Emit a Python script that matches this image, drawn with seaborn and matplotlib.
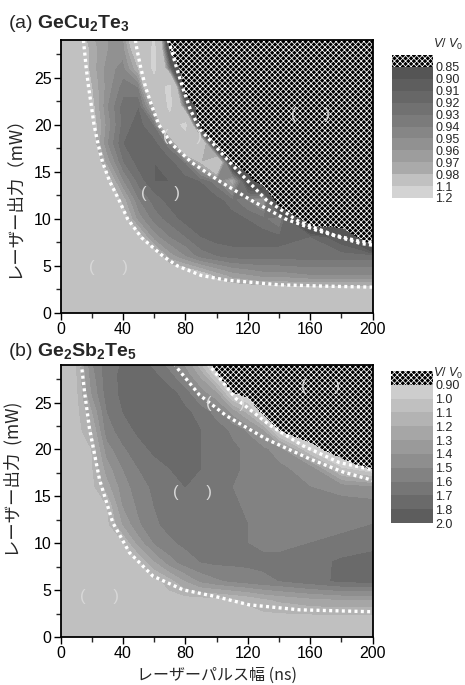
import numpy as np
import pandas as pd
import seaborn as sns
import matplotlib
matplotlib.use("Agg")
import matplotlib.pyplot as plt
from matplotlib import font_manager

# ---------------- data ----------------
pulse_ns = [0, 10, 20, 30, 40, 50, 60, 70, 80, 90, 100, 110, 120, 130, 140, 160, 180, 200]
power_mw = [0, 2, 4, 6, 8, 10, 12, 14, 16, 18, 20, 22, 24, 26, 28, 30]

# (a) GeCu2Te3 : V/V0 map, one row per laser power
ratio_a = [
    [1.00] * 18,
    [1.00] * 18,
    [1, 1, 1, 1, 1, 1, 1, 1, 1, 0.99, 0.975, 0.965, 0.96, 0.955, 0.955, 0.95, 0.95, 0.95],
    [1, 1, 1, 1, 1, 1, 0.995, 0.965, 0.95, 0.935, 0.93, 0.925, 0.925, 0.925, 0.925, 0.925, 0.925, 0.925],
    [1, 1, 1, 1, 1, 0.99, 0.955, 0.94, 0.93, 0.92, 0.915, 0.915, 0.915, 0.915, 0.915, 0.92, 0.90, 0.80],
    [1, 1, 1, 1, 0.99, 0.955, 0.935, 0.925, 0.915, 0.915, 0.915, 0.915, 0.92, 0.925, 0.94, 0.80, 0.80, 0.80],
    [1, 1, 1, 1, 0.975, 0.94, 0.925, 0.915, 0.91, 0.91, 0.915, 0.925, 0.94, 0.96, 0.80, 0.80, 0.80, 0.80],
    [1, 1, 1, 0.99, 0.95, 0.925, 0.91, 0.91, 0.915, 0.92, 0.935, 0.975, 0.88, 0.80, 0.80, 0.80, 0.80, 0.80],
    [1, 1, 1, 0.965, 0.93, 0.915, 0.91, 0.915, 0.93, 0.98, 1.05, 0.84, 0.80, 0.80, 0.80, 0.80, 0.80, 0.80],
    [1, 1, 0.99, 0.95, 0.92, 0.91, 0.915, 0.935, 1.05, 1.05, 0.80, 0.80, 0.80, 0.80, 0.80, 0.80, 0.80, 0.80],
    [1, 1, 0.99, 0.955, 0.925, 0.915, 0.93, 1.05, 1.12, 0.80, 0.80, 0.80, 0.80, 0.80, 0.80, 0.80, 0.80, 0.80],
    [1, 1, 0.985, 0.95, 0.925, 0.92, 0.98, 1.12, 0.92, 0.80, 0.80, 0.80, 0.80, 0.80, 0.80, 0.80, 0.80, 0.80],
    [1, 1, 0.98, 0.955, 0.935, 0.94, 1.05, 1.12, 0.80, 0.80, 0.80, 0.80, 0.80, 0.80, 0.80, 0.80, 0.80, 0.80],
    [1, 1, 0.975, 0.955, 0.945, 0.98, 1.12, 0.92, 0.80, 0.80, 0.80, 0.80, 0.80, 0.80, 0.80, 0.80, 0.80, 0.80],
    [1, 1, 0.975, 0.96, 0.955, 1.0, 1.12, 0.84, 0.80, 0.80, 0.80, 0.80, 0.80, 0.80, 0.80, 0.80, 0.80, 0.80],
    [1, 0.99, 0.97, 0.96, 0.96, 1.05, 1.10, 0.80, 0.80, 0.80, 0.80, 0.80, 0.80, 0.80, 0.80, 0.80, 0.80, 0.80],
]

# (b) Ge2Sb2Te5 : V/V0 map
ratio_b = [
    [1.05] * 18,
    [1.05] * 18,
    [1.05] * 11 + [1.08, 1.12, 1.18, 1.22, 1.27, 1.30, 1.30],
    [1.05] * 6 + [1.06, 1.15, 1.30, 1.42, 1.48, 1.52, 1.55, 1.58, 1.60, 1.66, 1.72, 1.74],
    [1.05] * 5 + [1.08, 1.28, 1.45, 1.55, 1.60, 1.62, 1.62, 1.62, 1.62, 1.62, 1.65, 1.72, 1.76],
    [1.05] * 4 + [1.08, 1.33, 1.50, 1.58, 1.62, 1.64, 1.64, 1.62, 1.60, 1.58, 1.58, 1.60, 1.62, 1.65],
    [1.05] * 3 + [1.07, 1.30, 1.48, 1.58, 1.63, 1.66, 1.68, 1.66, 1.62, 1.60, 1.58, 1.57, 1.57, 1.58, 1.60],
    [1.05] * 3 + [1.10, 1.40, 1.52, 1.60, 1.65, 1.68, 1.68, 1.66, 1.62, 1.58, 1.56, 1.55, 1.55, 1.55, 1.55],
    [1.05] * 2 + [1.06, 1.25, 1.45, 1.55, 1.62, 1.68, 1.70, 1.68, 1.64, 1.60, 1.56, 1.54, 1.52, 1.50, 1.45, 1.40],
    [1.05] * 2 + [1.08, 1.35, 1.50, 1.60, 1.66, 1.70, 1.72, 1.70, 1.66, 1.62, 1.58, 1.55, 1.52, 1.45, 1.00, 0.85],
    [1.05] * 2 + [1.10, 1.45, 1.58, 1.66, 1.72, 1.74, 1.72, 1.70, 1.66, 1.62, 1.58, 1.52, 1.45, 0.95, 0.80, 0.80],
    [1.05] * 2 + [1.18, 1.55, 1.65, 1.72, 1.75, 1.75, 1.72, 1.70, 1.65, 1.58, 1.48, 1.30, 0.88, 0.80, 0.80, 0.80],
    [1.05] * 2 + [1.28, 1.60, 1.70, 1.75, 1.76, 1.75, 1.72, 1.66, 1.55, 1.35, 1.15, 0.80, 0.80, 0.80, 0.80, 0.80],
    [1.05, 1.06, 1.40, 1.65, 1.72, 1.76, 1.76, 1.74, 1.65, 1.45, 1.30, 0.90] + [0.80] * 6,
    [1.05, 1.08, 1.45, 1.66, 1.72, 1.74, 1.72, 1.62, 1.45, 1.25, 0.90] + [0.80] * 7,
    [1.05, 1.10, 1.50, 1.66, 1.70, 1.70, 1.62, 1.48, 1.30, 0.95] + [0.80] * 8,
]

# contour levels (lowest band = hatched region) and tick labels of the colour keys
levels_a = [0, 0.85, 0.90, 0.91, 0.92, 0.93, 0.94, 0.95, 0.96, 0.97, 0.98, 1.1, 1.2]
labels_a = ["0.85", "0.90", "0.91", "0.92", "0.93", "0.94", "0.95", "0.96", "0.97", "0.98", "1.1", "1.2"]
levels_b = [0, 0.90, 1.0, 1.1, 1.2, 1.3, 1.4, 1.5, 1.6, 1.7, 1.8, 2.0]
labels_b = ["0.90", "1.0", "1.1", "1.2", "1.3", "1.4", "1.5", "1.6", "1.7", "1.8", "2.0"]

# threshold lines (pulse width ns, power mW)
a_line1_x = [14.7, 16.5, 18, 19.8, 21.5, 24, 27, 31.5, 37.5, 43, 52, 66, 75, 90, 106, 140, 170, 200]
a_line1_y = [29, 26, 24, 22, 20, 18, 16, 14, 12, 10, 8, 6, 5, 4, 3.5, 3.0, 2.85, 2.75]
a_line2_x = [48, 49, 51.5, 54.5, 58.5, 63, 71, 84, 102, 122, 144, 164, 180, 192, 200]
a_line2_y = [29, 28, 26, 24, 22, 20, 18, 16, 14, 12, 10, 8.8, 8, 7.4, 7.2]
a_line3_x = [69, 71, 74.5, 78.8, 83.5, 89.5, 97.7, 108.5, 120.2, 132, 153, 175, 192, 200]
a_line3_y = [29, 28, 26, 23.7, 21.5, 19.5, 18, 16, 14, 12, 9.7, 8.3, 7.6, 7.5]

b_line1_x = [13.3, 15.5, 18.6, 25, 33.5, 44.2, 59.2, 78.4, 99.8, 121, 153, 198, 200]
b_line1_y = [29.2, 26, 22.2, 16.8, 12.2, 9.0, 6.5, 5.04, 4.3, 3.43, 2.9, 2.7, 2.7]
b_line2_x = [73, 74.2, 89.1, 106.2, 131.9, 159.6, 181, 198, 200]
b_line2_y = [29.2, 28.8, 25.8, 23.6, 21.1, 19.0, 17.6, 16.8, 16.7]
b_line3_x = [94.4, 112.6, 134, 155.3, 178.8, 198, 200]
b_line3_y = [29.2, 25.4, 22.6, 20.4, 18.6, 17.9, 17.85]

# ---------------- style ----------------
sns.set_theme(style="ticks")
plt.rcParams["font.family"] = ["Liberation Sans", "Noto Sans CJK JP", "DejaVu Sans"]
plt.rcParams["mathtext.fontset"] = "custom"
plt.rcParams["mathtext.rm"] = "Liberation Sans"
plt.rcParams["mathtext.it"] = "Liberation Sans:italic"
plt.rcParams["mathtext.bf"] = "Liberation Sans:bold"
plt.rcParams["hatch.color"] = "#7a7a7a"
plt.rcParams["hatch.linewidth"] = 0.55

names = {f.name for f in font_manager.fontManager.ttflist}
narrow = "Liberation Sans Narrow" if "Liberation Sans Narrow" in names else "Liberation Sans"
jp = ["Noto Sans CJK JP", "DejaVu Sans"]

colors_a = ["#000000", "#555555", "#5e5e5e", "#676767", "#717171", "#7b7b7b",
            "#868686", "#919191", "#9d9d9d", "#aaaaaa", "#c1c1c1", "#d3d3d3"]
colors_b = ["#000000", "#cdcdcd", "#c0c0c0", "#b3b3b3", "#a6a6a6", "#9a9a9a",
            "#8e8e8e", "#828282", "#767676", "#6a6a6a", "#5d5d5d"]

fig = plt.figure(figsize=(4.65, 6.85), dpi=100)
W, H = 465.0, 685.0
ax_a = fig.add_axes([60.5 / W, 1 - 313 / H, 312 / W, 273 / H])
ax_b = fig.add_axes([60.5 / W, 1 - 637 / H, 312 / W, 272 / H])
cax_a = fig.add_axes([392 / W, 1 - 198 / H, 41 / W, 143 / H])
cax_b = fig.add_axes([391 / W, 1 - 523 / H, 42 / W, 152 / H])

X, Y = np.meshgrid(pulse_ns, power_mw)


def draw_panel(ax, cax, grid, levels, colors, ticklabels, lines):
    cs = ax.contourf(X, Y, np.array(grid), levels=levels, colors=colors,
                     hatches=["xxxxxx"] + [None] * (len(levels) - 2))
    for lx, ly in lines:
        df = pd.DataFrame({"ns": lx, "mw": ly})
        sns.lineplot(data=df, x="ns", y="mw", ax=ax, sort=False, estimator=None,
                     color="white", lw=2.4, linestyle=(0, (0.9, 1.0)),
                     dash_capstyle="butt")
    ax.set_xlim(0, 200)
    ax.set_ylim(0, 29)
    ax.set_xticks([0, 40, 80, 120, 160, 200])
    ax.set_xticks([20, 60, 100, 140, 180], minor=True)
    ax.set_yticks([0, 5, 10, 15, 20, 25])
    ax.set_yticks([2.5, 7.5, 12.5, 17.5, 22.5, 27.5], minor=True)
    ax.tick_params(which="major", direction="out", length=5, width=1.0,
                   labelsize=11.5, pad=1.5, colors="black")
    ax.tick_params(which="minor", direction="out", length=3.5, width=1.0)
    for s in ax.spines.values():
        s.set_linewidth(1.3)
        s.set_color("black")
    ax.set_xlabel("")

    cb = fig.colorbar(cs, cax=cax)
    cb.outline.set_visible(False)
    cax.invert_yaxis()
    cb.set_ticks(levels[1:])
    cb.set_ticklabels(ticklabels)
    cax.tick_params(length=0, pad=1.5, labelsize=9)
    for t in cax.get_yticklabels():
        t.set_family(narrow)
    return cs


draw_panel(ax_a, cax_a, ratio_a, levels_a, colors_a, labels_a,
           [(a_line1_x, a_line1_y), (a_line2_x, a_line2_y), (a_line3_x, a_line3_y)])
draw_panel(ax_b, cax_b, ratio_b, levels_b, colors_b, labels_b,
           [(b_line1_x, b_line1_y), (b_line2_x, b_line2_y), (b_line3_x, b_line3_y)])

# axis labels
ax_a.set_ylabel("レーザー出力（mW）", family=jp, fontsize=12.5)
ax_a.yaxis.set_label_coords(-0.122, 0.44)
ax_b.set_ylabel("レーザー出力  (mW)", family=jp, fontsize=12.5)
ax_b.yaxis.set_label_coords(-0.122, 0.58)
ax_b.set_xlabel("レーザーパルス幅 (ns)", family=jp, fontsize=11.5, labelpad=4)

# panel titles
fig.text(8 / W, 1 - 28 / H, r"(a) $\mathbf{GeCu}_\mathbf{2}\mathbf{Te}_\mathbf{3}$",
         fontsize=14, va="baseline", ha="left")
fig.text(8 / W, 1 - 356 / H, r"(b) $\mathbf{Ge}_\mathbf{2}\mathbf{Sb}_\mathbf{2}\mathbf{Te}_\mathbf{5}$",
         fontsize=14, va="baseline", ha="left")

# colour key captions
fig.text(433 / W, 1 - 44 / H, r"$V$/ $V_0$", fontsize=9, va="center", ha="left")
fig.text(433 / W, 1 - 373 / H, r"$V$/ $V_0$", fontsize=9, va="center", ha="left")

# bracket markers on the maps
paren = "(      )"
for ax, pts in ((ax_a, [(31, 4.8), (64, 12.7), (78.5, 18.8), (160, 21.1)]),
                (ax_b, [(24.8, 4.3), (84.3, 15.4), (105.6, 24.9), (166.5, 26.7)])):
    for px, py in pts:
        ax.text(px, py, paren, color="#d8d8d8", fontsize=12, ha="center", va="center",
                fontweight="light")

fig.savefig("out.png", dpi=100)
